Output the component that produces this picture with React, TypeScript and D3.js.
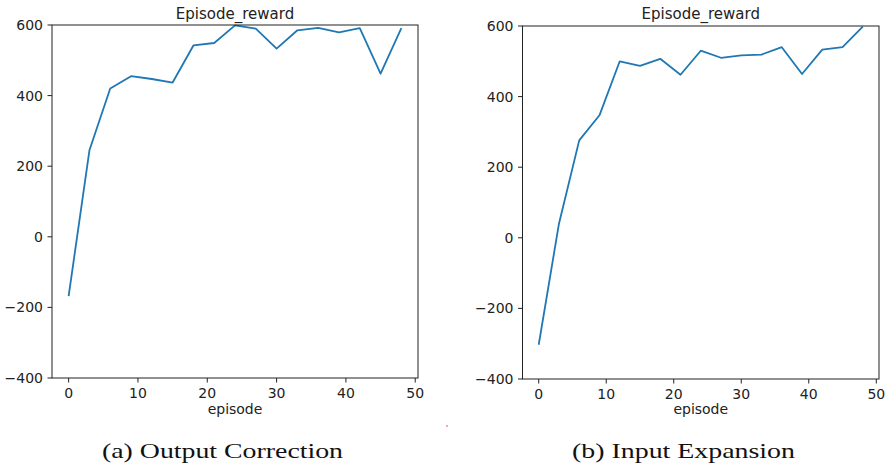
import * as d3 from "d3"
import React from "react"

// episodes sampled every 3 steps
const episodes = [0, 3, 6, 9, 12, 15, 18, 21, 24, 27, 30, 33, 36, 39, 42, 45, 48]
const outputCorrection = [-168, 245, 420, 455, 447, 437, 542, 549, 599, 590, 533, 585, 592, 579, 591, 462, 591]
const inputExpansion = [-303, 40, 276, 347, 500, 487, 507, 462, 530, 510, 517, 519, 540, 464, 533, 540, 598]
const xTicks = [0, 10, 20, 30, 40, 50]
const yTicks = [-400, -200, 0, 200, 400, 600]
const captions = ["(a) Output Correction", "(b) Input Expansion"]

const font = "'DejaVu Sans', sans-serif"
const lineColor = "#1f77b4"

const Panel = (props) => {
  const { values, left, right, top, bottom } = props
  const x = d3.scaleLinear().domain([-2.4, 50.4]).range([left, right])
  const y = d3.scaleLinear().domain([-400, 600]).range([bottom, top])
  const line = d3.line<number>()
    .x((d, i) => x(episodes[i]))
    .y(d => y(d))
  return (
    <g>
      <text x={(left + right) / 2} y={19} textAnchor="middle" fontFamily={font} fontSize={15} fill="#222">Episode_reward</text>
      <path d={line(values) || ""} fill="none" stroke={lineColor} strokeWidth={1.8} strokeLinejoin="round" />
      <rect x={left} y={top} width={right - left} height={bottom - top} fill="none" stroke="#222" strokeWidth={1} />
      {xTicks.map(t => (
        <g key={"x" + t} transform={`translate(${x(t)},${bottom})`}>
          <line y1={0} y2={4.5} stroke="#222" strokeWidth={1} />
          <text y={19.5} textAnchor="middle" fontFamily={font} fontSize={14} fill="#222">{t}</text>
        </g>
      ))}
      {yTicks.map(t => (
        <g key={"y" + t} transform={`translate(${left},${y(t)})`}>
          <line x1={0} x2={-4.5} stroke="#222" strokeWidth={1} />
          <text x={-9} dy="0.35em" textAnchor="end" fontFamily={font} fontSize={14} fill="#222">{t < 0 ? "\u2212" + Math.abs(t) : t}</text>
        </g>
      ))}
      <text x={(left + right) / 2} y={414} textAnchor="middle" fontFamily={font} fontSize={14} fill="#222">episode</text>
    </g>
  )
}

export default function App() {
  return (
    <svg width={887} height={465} style={{ position: "absolute", left: 0, top: 0, background: "#fff" }}>
      <rect width={887} height={465} fill="#fff" />
      <Panel values={outputCorrection} left={52} right={418} top={25} bottom={378} />
      <Panel values={inputExpansion} left={522.5} right={879} top={26} bottom={379} />
      <text x={102} y={458} textLength={241} lengthAdjust="spacingAndGlyphs" fontFamily="'Liberation Serif', serif" fontSize={22} fill="#111">{captions[0]}</text>
      <text x={572} y={458} textLength={223} lengthAdjust="spacingAndGlyphs" fontFamily="'Liberation Serif', serif" fontSize={22} fill="#111">{captions[1]}</text>
      <circle cx={447} cy={426} r={0.8} fill="#e33" />
    </svg>
  )
}
